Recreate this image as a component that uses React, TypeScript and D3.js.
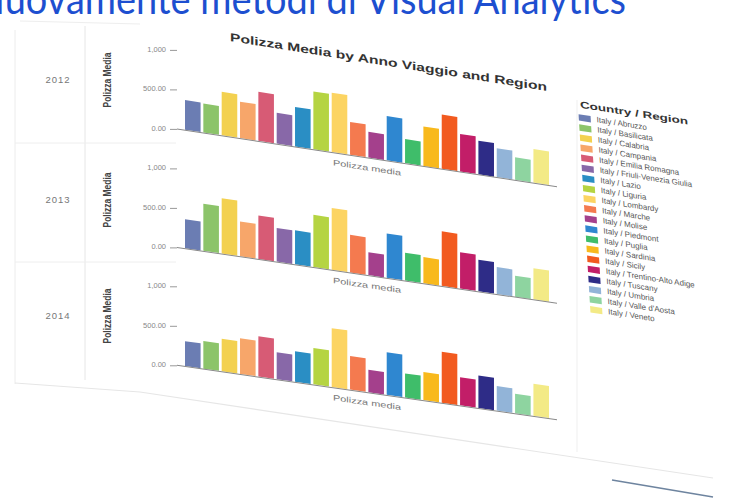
import React from "react";
import * as d3 from "d3";

// Regions shown on the colour legend and as bars in each year row
const regions = [
  "Italy / Abruzzo",
  "Italy / Basilicata",
  "Italy / Calabria",
  "Italy / Campania",
  "Italy / Emilia Romagna",
  "Italy / Friuli-Venezia Giulia",
  "Italy / Lazio",
  "Italy / Liguria",
  "Italy / Lombardy",
  "Italy / Marche",
  "Italy / Molise",
  "Italy / Piedmont",
  "Italy / Puglia",
  "Italy / Sardinia",
  "Italy / Sicily",
  "Italy / Trentino-Alto Adige",
  "Italy / Tuscany",
  "Italy / Umbria",
  "Italy / Valle d'Aosta",
  "Italy / Veneto",
];

const regionColors = [
  "#6b7db3", "#8cc46a", "#f3d150", "#f7a66a", "#d75b75",
  "#8868a8", "#2a8ec4", "#b5d442", "#fcd462", "#f47a4f",
  "#a4408c", "#2f87d0", "#3fbd6a", "#f8b91d", "#f25a1f",
  "#c21e68", "#2e2c87", "#92b4d8", "#8ed4a0", "#f3ea86",
];

const years = ["2012", "2013", "2014"];

// Polizza Media per region, one array per Anno Viaggio
const values2012 = [375, 365, 550, 460, 620, 390, 500, 730, 750, 415, 325, 560, 305, 500, 685, 475, 425, 365, 285, 425];
const values2013 = [365, 595, 700, 440, 550, 425, 430, 660, 780, 475, 290, 560, 350, 330, 690, 460, 400, 340, 265, 395];
const values2014 = [315, 350, 410, 450, 510, 340, 385, 460, 745, 425, 285, 540, 305, 355, 645, 355, 410, 310, 245, 405];
const valuesByYear = [values2012, values2013, values2014];

const tickValues = [0, 500, 1000];
const tickLabels = ["0.00", "500.00", "1,000"];

const chartTitle = "Polizza Media by Anno Viaggio and Region";
const slideTitle = "Nuovamente metodi di Visual Analytics";
const legendTitle = "Country / Region";
const measureName = "Polizza Media";
const axisName = "Polizza media";

// Layout of the tilted sheet
const W = 746;
const H = 503;
const plotX = 180;
const rows = [
  { base: 128.9, slope: 0.152, mid: 80 },
  { base: 247.4, slope: 0.147, mid: 200 },
  { base: 365.3, slope: 0.143, mid: 316 },
];

const x = d3.scaleBand<string>().domain(regions).range([5, 369]).paddingInner(0.15);
const y = d3.scaleLinear().domain([0, 1000]).range([0, -79]);

const sans = "'Liberation Sans', Arial, sans-serif";

export default function App() {
  return (
    <div style={{ position: "absolute", left: 0, top: 0, width: W, height: H, overflow: "hidden", background: "#fff" }}>
      <svg width={W} height={H} viewBox={`0 0 ${W} ${H}`} style={{ display: "block" }}>
        <rect x={0} y={0} width={W} height={H} fill="#fff" />

        {/* slide heading, cropped at the top edge */}
        <text x={-24} y={14} fontFamily="Lato, 'Open Sans', sans-serif" fontSize={42} fill="#1d4fd0"
          textLength={650} lengthAdjust="spacingAndGlyphs">
          {slideTitle}
        </text>

        {/* faint sheet frame */}
        <line x1={15} y1={30} x2={15} y2={384} stroke="#ececec" strokeWidth={1} />
        <line x1={85} y1={26} x2={85} y2={380} stroke="#e6e6e6" strokeWidth={1} />
        <line x1={20} y1={21} x2={140} y2={24} stroke="#eeeeee" strokeWidth={1} />
        <line x1={577} y1={100} x2={577} y2={452} stroke="#efefef" strokeWidth={1} />
        <polyline points="15,383 140,392 713,478" fill="none" stroke="#e6e6e6" strokeWidth={1.2} />
        <line x1={612} y1={480} x2={713} y2={497} stroke="#4a6688" strokeWidth={1.6} opacity={0.8} />
        {[143, 262].map((yy, i) => (
          <line key={i} x1={15} y1={yy} x2={176} y2={yy} stroke="#eeeeee" strokeWidth={1} />
        ))}

        {/* chart title */}
        <g transform="translate(230,38) matrix(1,0.158,0,1,0,0)">
          <text x={0} y={0} dominantBaseline="middle" fontFamily={sans} fontSize={11.5} fontWeight="bold" fill="#333"
            textLength={317} lengthAdjust="spacingAndGlyphs">
            {chartTitle}
          </text>
        </g>

        {rows.map((r, ri) => {
          const vals = valuesByYear[ri];
          return (
            <g key={years[ri]}>
              {/* row header and measure title */}
              <text x={58} y={r.mid} textAnchor="middle" dominantBaseline="middle" fontFamily={sans}
                fontSize={9.5} fill="#777" letterSpacing={1}>
                {years[ri]}
              </text>
              <text transform={`translate(108,${r.mid}) rotate(-90)`} textAnchor="middle" dominantBaseline="middle"
                fontFamily={sans} fontSize={10} fontWeight="bold" fill="#444" textLength={55} lengthAdjust="spacingAndGlyphs">
                {measureName}
              </text>

              {/* value axis */}
              {tickValues.map((t, ti) => (
                <g key={t} transform={`translate(0,${r.base + y(t)})`}>
                  <text x={166} y={0} textAnchor="end" dominantBaseline="middle" fontFamily={sans} fontSize={7.5} fill="#888">
                    {tickLabels[ti]}
                  </text>
                  <line x1={170} x2={177} y1={0.5} y2={0.5} stroke="#999" strokeWidth={1} />
                </g>
              ))}

              {/* bars, sheared with the sheet */}
              <g transform={`translate(${plotX},${r.base}) matrix(1,${r.slope},0,1,0,0)`}>
                {regions.map((reg, i) => (
                  <rect key={reg} x={x(reg)} y={y(vals[i])} width={x.bandwidth()} height={-y(vals[i])}
                    fill={regionColors[i]} />
                ))}
                <line x1={-3} x2={377} y1={0.5} y2={0.5} stroke="#888" strokeWidth={1} />
                <text x={187} y={11} textAnchor="middle" dominantBaseline="middle" fontFamily={sans} fontSize={8}
                  fill="#777" textLength={68} lengthAdjust="spacingAndGlyphs">
                  {axisName}
                </text>
              </g>
            </g>
          );
        })}

        {/* colour legend */}
        <g transform="translate(578,105) matrix(1,0.155,0.06,1,0,0)">
          <text x={2} y={0} dominantBaseline="middle" fontFamily={sans} fontSize={9.5} fontWeight="bold" fill="#333"
            textLength={108} lengthAdjust="spacingAndGlyphs">
            {legendTitle}
          </text>
          {regions.map((reg, i) => (
            <g key={reg} transform={`translate(0,${12.4 + i * 10.1})`}>
              <rect x={0} y={-3.2} width={12} height={6.4} fill={regionColors[i]} />
              <text x={18} y={0} dominantBaseline="middle" fontFamily={sans} fontSize={8} fill="#555">
                {reg}
              </text>
            </g>
          ))}
        </g>
      </svg>
    </div>
  );
}
